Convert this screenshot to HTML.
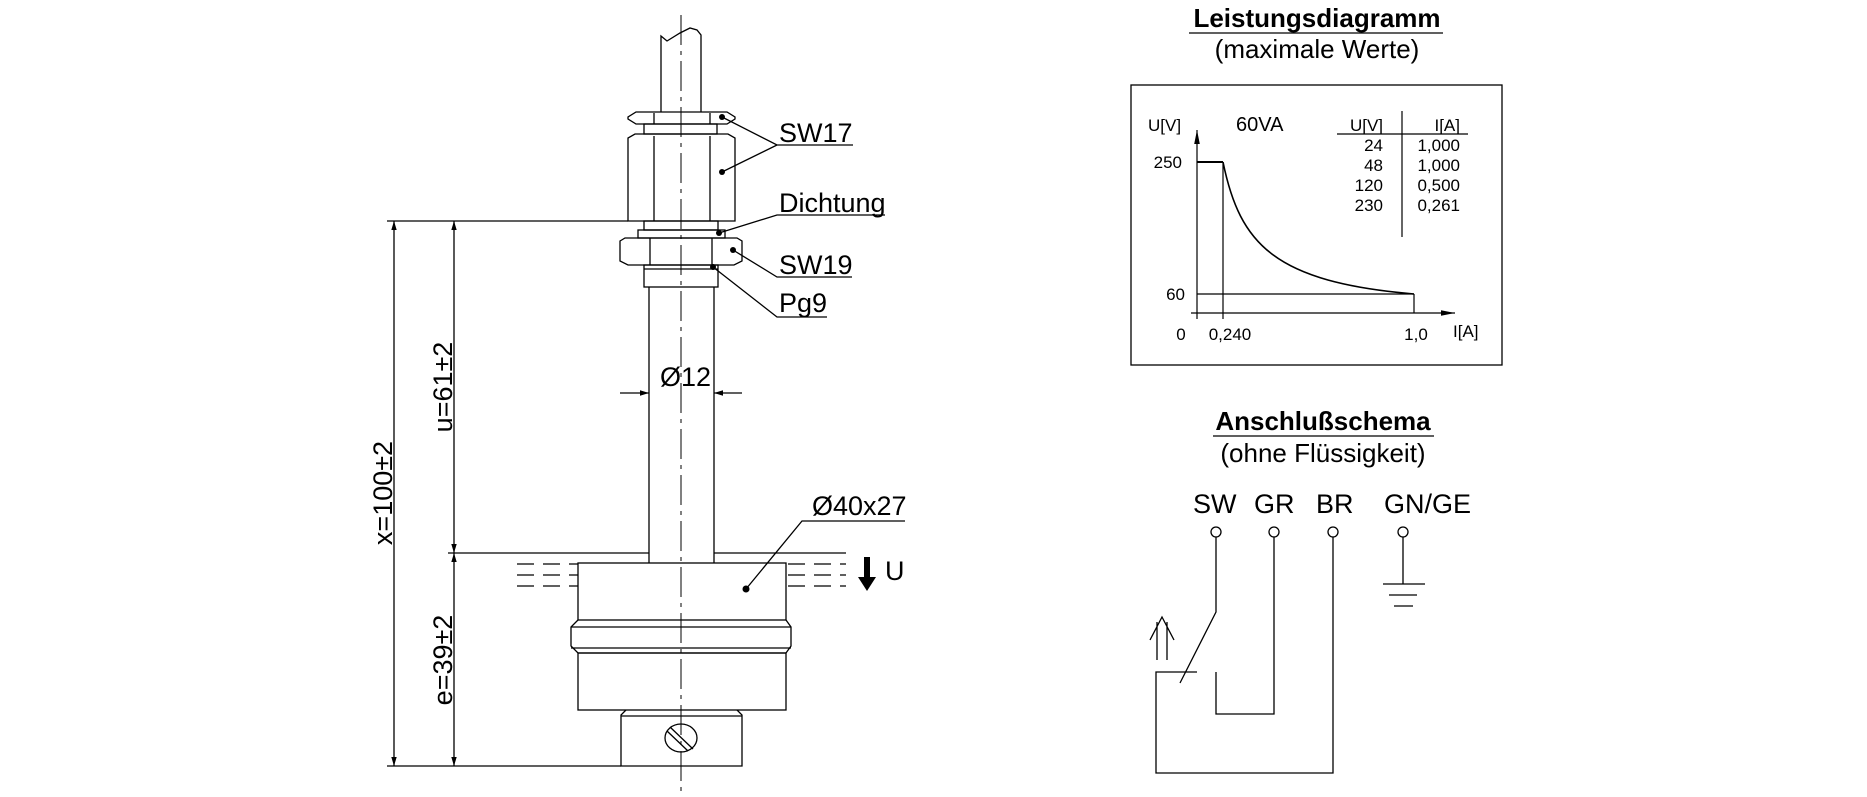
<!DOCTYPE html>
<html><head><meta charset="utf-8"><style>
html,body{margin:0;padding:0;background:#fff;}
svg{display:block;}
text{font-family:"Liberation Sans",Arial,sans-serif;fill:#000;}
</style></head><body>
<svg width="1867" height="797" viewBox="0 0 1867 797" xmlns="http://www.w3.org/2000/svg">
<defs>
<marker id="ar" viewBox="0 0 10 10" refX="10" refY="5" markerWidth="9" markerHeight="18" markerUnits="userSpaceOnUse" orient="auto-start-reverse"><path d="M0,2 L10,5 L0,8 z" fill="#000"/></marker>
<marker id="ar2" viewBox="0 0 10 10" refX="10" refY="5" markerWidth="14" markerHeight="14" markerUnits="userSpaceOnUse" orient="auto"><path d="M0,3 L10,5 L0,7 z" fill="#000"/></marker>
</defs>
<g stroke="#000" stroke-width="1.3" fill="none">
<line x1="681" y1="15" x2="681" y2="797" stroke-dasharray="30,6,4,6" stroke-width="1"/>
<path d="M661,112 L661,36 L667,41 L680,33 L690,28 L697,30 L701,35 L701,112"/>
<path d="M636,112 L727,112 L735,117 L735,119 L727,124 L636,124 L628,119 L628,117 Z"/>
<line x1="654" y1="113" x2="654" y2="124"/><line x1="710" y1="113" x2="710" y2="124"/>
<rect x="644" y="124" width="73" height="10"/>
<path d="M635,134 L728,134 L735,138 L735,221 L628,221 L628,138 Z"/>
<line x1="654" y1="136" x2="654" y2="221"/><line x1="710" y1="136" x2="710" y2="221"/>
<rect x="644" y="221" width="74" height="9"/>
<rect x="638" y="230" width="87" height="8"/>
<path d="M620,241 L625,238 L737,238 L742,241 L742,261 L734,265 L628,265 L620,261 Z"/>
<line x1="650" y1="238" x2="650" y2="265"/><line x1="712" y1="238" x2="712" y2="265"/>
<rect x="644" y="265" width="74" height="22"/>
<line x1="644" y1="269" x2="718" y2="269"/>
<line x1="649" y1="287" x2="649" y2="563"/><line x1="714" y1="287" x2="714" y2="563"/>
<line x1="620" y1="393" x2="649" y2="393" marker-end="url(#ar)"/>
<line x1="742" y1="393" x2="714" y2="393" marker-end="url(#ar)"/>
<rect x="578" y="563" width="208" height="57"/>
<path d="M578,620 L571,627 L571,646 L578,653 L786,653 L791,646 L791,627 L786,620"/>
<line x1="571" y1="627" x2="791" y2="627"/><line x1="571" y1="648" x2="791" y2="648"/>
<rect x="578" y="653" width="208" height="57"/>
<path d="M626,710 L621,715 L621,766 L742,766 L742,715 L737,710"/>
<line x1="621" y1="716" x2="742" y2="716"/>
<ellipse cx="681" cy="738" rx="16" ry="14"/>
<line x1="670" y1="727" x2="693" y2="749"/><line x1="667" y1="731" x2="688" y2="751"/>
<g stroke-dasharray="17,9">
<line x1="517" y1="564" x2="578" y2="564"/><line x1="517" y1="575" x2="578" y2="575"/><line x1="517" y1="586" x2="578" y2="586"/>
<line x1="788" y1="564" x2="846" y2="564"/><line x1="788" y1="575" x2="846" y2="575"/><line x1="788" y1="586" x2="846" y2="586"/>
</g>
<line x1="387" y1="221" x2="628" y2="221"/>
<line x1="448" y1="553" x2="649" y2="553"/><line x1="714" y1="553" x2="846" y2="553"/>
<line x1="387" y1="766" x2="621" y2="766"/>
<line x1="394" y1="766" x2="394" y2="221" marker-end="url(#ar)" marker-start="url(#ar)"/>
<line x1="454" y1="553" x2="454" y2="221" marker-end="url(#ar)" marker-start="url(#ar)"/>
<line x1="454" y1="553" x2="454" y2="766" marker-end="url(#ar)" marker-start="url(#ar)"/>
<path d="M853,145 L777,145 L722,117 M777,145 L722,172"/>
<path d="M885,215 L777,215 L719,233"/>
<path d="M852,277 L777,277 L733,250"/>
<path d="M827,317 L777,317 L713,267"/>
<path d="M905,521 L802,521 L746,589"/>
</g>
<g fill="#000">
<circle cx="722" cy="117" r="3"/><circle cx="722" cy="172" r="3"/><circle cx="719" cy="233" r="3"/><circle cx="733" cy="250" r="3"/><circle cx="713" cy="267" r="3"/><circle cx="746" cy="589" r="3.5"/>
<path d="M864,557 L870,557 L870,577 L876,577 L867,591 L858,577 L864,577 Z"/>
</g>
<g font-size="27">
<text x="779" y="142">SW17</text>
<text x="779" y="212">Dichtung</text>
<text x="779" y="274">SW19</text>
<text x="779" y="312">Pg9</text>
<text x="660" y="386">Ø12</text>
<text x="812" y="515">Ø40x27</text>
<text x="885" y="580">U</text>
<text transform="translate(392,493) rotate(-90)" text-anchor="middle">x=100±2</text>
<text transform="translate(452,387) rotate(-90)" text-anchor="middle">u=61±2</text>
<text transform="translate(452,660) rotate(-90)" text-anchor="middle">e=39±2</text>
</g>

<text x="1317" y="27" font-size="26" font-weight="bold" text-anchor="middle">Leistungsdiagramm</text>
<line x1="1189" y1="33" x2="1443" y2="33" stroke="#000" stroke-width="1.3"/>
<text x="1317" y="58" font-size="26" text-anchor="middle">(maximale Werte)</text>
<rect x="1131" y="85" width="371" height="280" fill="none" stroke="#000" stroke-width="1.3"/>
<g stroke="#000" stroke-width="1.2" fill="none">
<line x1="1197" y1="319" x2="1197" y2="130" marker-end="url(#ar2)"/>
<line x1="1191" y1="313" x2="1455" y2="313" marker-end="url(#ar2)"/>
<line x1="1197" y1="162" x2="1223" y2="162" stroke-width="2"/>
<line x1="1223" y1="162" x2="1223" y2="319"/>
<path d="M1223,162 C1240,245 1275,282 1414,294" stroke-width="1.6"/>
<line x1="1197" y1="294" x2="1414" y2="294"/>
<line x1="1414" y1="294" x2="1414" y2="313"/>
<line x1="1402" y1="111" x2="1402" y2="237"/>
<line x1="1337" y1="134" x2="1468" y2="134"/>
</g>
<g font-size="17">
<text x="1148" y="131">U[V]</text>
<text x="1236" y="131" font-size="20">60VA</text>
<text x="1182" y="168" text-anchor="end">250</text>
<text x="1185" y="300" text-anchor="end">60</text>
<text x="1181" y="340" text-anchor="middle">0</text>
<text x="1230" y="340" text-anchor="middle">0,240</text>
<text x="1416" y="340" text-anchor="middle">1,0</text>
<text x="1453" y="337">I[A]</text>
<text x="1383" y="131" text-anchor="end">U[V]</text>
<text x="1460" y="131" text-anchor="end">I[A]</text>
<text x="1383" y="151" text-anchor="end">24</text><text x="1460" y="151" text-anchor="end">1,000</text>
<text x="1383" y="171" text-anchor="end">48</text><text x="1460" y="171" text-anchor="end">1,000</text>
<text x="1383" y="191" text-anchor="end">120</text><text x="1460" y="191" text-anchor="end">0,500</text>
<text x="1383" y="211" text-anchor="end">230</text><text x="1460" y="211" text-anchor="end">0,261</text>
</g>

<text x="1323" y="430" font-size="26" font-weight="bold" text-anchor="middle">Anschlußschema</text>
<line x1="1213" y1="436" x2="1434" y2="436" stroke="#000" stroke-width="1.3"/>
<text x="1323" y="462" font-size="26" text-anchor="middle">(ohne Flüssigkeit)</text>
<g font-size="27">
<text x="1193" y="513">SW</text><text x="1254" y="513">GR</text><text x="1316" y="513">BR</text><text x="1384" y="513">GN/GE</text>
</g>
<g stroke="#000" stroke-width="1.3" fill="none">
<circle cx="1216" cy="532" r="5"/><circle cx="1274" cy="532" r="5"/><circle cx="1333" cy="532" r="5"/><circle cx="1403" cy="532" r="5"/>
<path d="M1216,537 L1216,612 L1180,683"/>
<path d="M1274,537 L1274,714 L1216,714 L1216,672"/>
<path d="M1333,537 L1333,773 L1156,773 L1156,672 L1197,672"/>
<path d="M1403,537 L1403,584 M1383,584 L1425,584 M1389,595 L1417,595 M1394,606 L1413,606"/>
<path d="M1157,660 L1157,622 M1167,660 L1167,622 M1150,640 L1162,617 L1174,640"/>
</g>
</svg>
</body></html>
